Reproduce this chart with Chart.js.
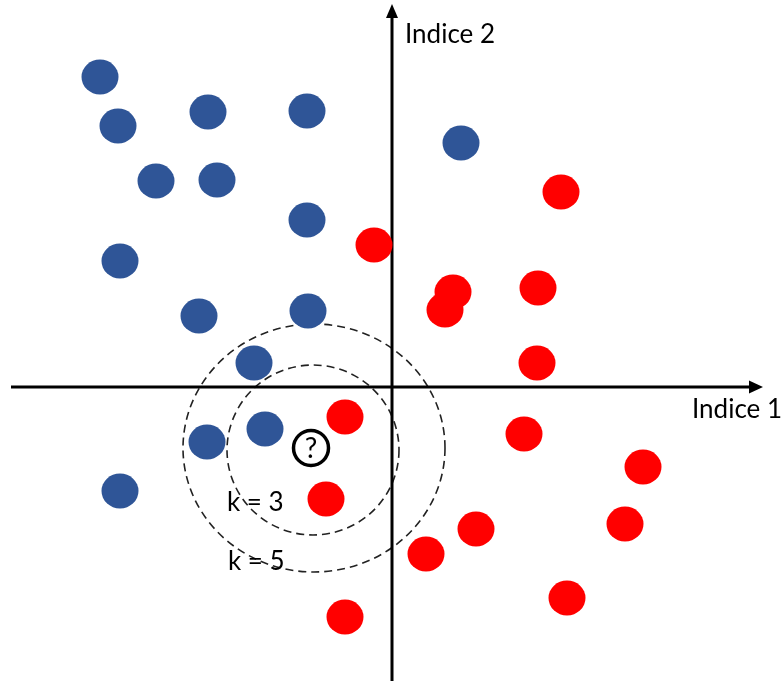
<!DOCTYPE html>
<html>
<head>
<meta charset="utf-8">
<script src="https://cdn.jsdelivr.net/npm/chart.js@4/dist/chart.umd.min.js"></script>
<style>
    body { margin: 0; background: #fff; }
    #wrap { width: 784px; height: 681px; }
</style>
</head>
<body>
<div id="wrap"><canvas id="chart" width="784" height="681"></canvas></div>
<script>
// class A (blue) and class B (red) samples, in axis units
const blueX = [-29.2, -27.4, -18.4, -8.5, -23.6, -17.5, -8.5, -27.2, -19.3, -8.4, -13.8, -18.5, -12.7, -27.2, 6.9];
const blueY = [31.0, 26.1, 27.5, 27.6, 20.6, 20.7, 16.7, 12.6, 7.1, 7.6, 2.4, -5.5, -4.2, -10.4, 24.4];
const redX = [16.9, -1.8, 6.1, 14.6, 5.3, 14.5, -4.7, 13.2, 25.1, -6.6, 8.4, 23.3, 3.4, 17.5, -4.7];
const redY = [19.5, 14.2, 9.5, 9.9, 7.7, 2.4, -3.0, -4.7, -8.0, -11.2, -14.2, -13.7, -16.7, -21.1, -23.0];

// point to classify
const queryX = [-8.1];
const queryY = [-6.1];

// neighbourhoods: centre and radii (x, y)
const k3Circle = [-7.9, -6.3, 8.6, 8.5];
const k5Circle = [-7.8, -6.1, 13.1, 12.4];

const axisTitles = ['Indice 1', 'Indice 2'];
const kLabels = ['k = 3', 'k = 5'];
const kLabelPos = [[-16.5, -11.6], [-16.4, -17.5]];

const xRange = [-39.2, 39.2];
const yRange = [-29.4, 38.7];

const FONT = 'Lato, "Open Sans", sans-serif';

function toPoints(xs, ys) {
    return xs.map((x, i) => ({ x: x, y: ys[i] }));
}

function blob(color) {
    const c = document.createElement('canvas');
    c.width = 38;
    c.height = 36;
    const g = c.getContext('2d');
    g.fillStyle = color;
    g.beginPath();
    g.ellipse(19, 18, 18.5, 17.5, 0, 0, Math.PI * 2);
    g.fill();
    return c;
}

const background = {
    id: 'background',
    beforeDatasetsDraw(chart) {
        const { ctx, scales: { x, y } } = chart;
        const x0 = x.getPixelForValue(0);
        const y0 = y.getPixelForValue(0);
        ctx.save();

        // dashed neighbourhoods
        ctx.strokeStyle = '#222';
        ctx.lineWidth = 1.6;
        ctx.setLineDash([8, 5]);
        [k3Circle, k5Circle].forEach(c => {
            const cx = x.getPixelForValue(c[0]);
            const cy = y.getPixelForValue(c[1]);
            const rx = x.getPixelForValue(c[0] + c[2]) - cx;
            const ry = cy - y.getPixelForValue(c[1] + c[3]);
            ctx.beginPath();
            ctx.ellipse(cx, cy, rx, ry, 0, 0, Math.PI * 2);
            ctx.stroke();
        });
        ctx.setLineDash([]);

        // axes with arrows
        ctx.strokeStyle = '#000';
        ctx.fillStyle = '#000';
        ctx.lineWidth = 3;
        ctx.beginPath();
        ctx.moveTo(11, y0);
        ctx.lineTo(751, y0);
        ctx.moveTo(x0, chart.height);
        ctx.lineTo(x0, 16);
        ctx.stroke();

        ctx.beginPath();
        ctx.moveTo(763, y0);
        ctx.lineTo(749, y0 - 6.5);
        ctx.lineTo(749, y0 + 6.5);
        ctx.closePath();
        ctx.fill();

        ctx.beginPath();
        ctx.moveTo(x0, 4);
        ctx.lineTo(x0 - 6, 18);
        ctx.lineTo(x0 + 6, 18);
        ctx.closePath();
        ctx.fill();

        ctx.restore();
    },
    afterDatasetsDraw(chart) {
        const { ctx, scales: { x, y } } = chart;
        const x0 = x.getPixelForValue(0);
        const y0 = y.getPixelForValue(0);
        ctx.save();
        ctx.fillStyle = '#000';
        ctx.font = '26px ' + FONT;
        ctx.textBaseline = 'middle';
        ctx.textAlign = 'left';
        ctx.fillText(axisTitles[1], x0 + 13, 35);
        ctx.fillText(axisTitles[0], 692, y0 + 23);

        kLabels.forEach((t, i) => {
            ctx.fillText(t, x.getPixelForValue(kLabelPos[i][0]), y.getPixelForValue(kLabelPos[i][1]));
        });

        // question mark in the query point
        ctx.font = '28px ' + FONT;
        ctx.textAlign = 'center';
        ctx.fillText('?', x.getPixelForValue(queryX[0]), y.getPixelForValue(queryY[0]) + 1);
        ctx.restore();
    }
};

new Chart(document.getElementById('chart'), {
    type: 'scatter',
    data: {
        datasets: [
            {
                label: 'A',
                data: toPoints(blueX, blueY),
                pointStyle: blob('#2F5597')
            },
            {
                label: 'B',
                data: toPoints(redX, redY),
                pointStyle: blob('#FF0000')
            },
            {
                label: '?',
                data: toPoints(queryX, queryY),
                pointStyle: 'circle',
                pointRadius: 17.5,
                backgroundColor: '#fff',
                borderColor: '#000',
                borderWidth: 3.5
            }
        ]
    },
    options: {
        responsive: false,
        animation: false,
        clip: false,
        layout: { padding: 0, autoPadding: false },
        plugins: {
            legend: { display: false },
            tooltip: { enabled: false }
        },
        scales: {
            x: { type: 'linear', min: xRange[0], max: xRange[1], display: false },
            y: { type: 'linear', min: yRange[0], max: yRange[1], display: false }
        }
    },
    plugins: [background]
});
</script>
</body>
</html>
